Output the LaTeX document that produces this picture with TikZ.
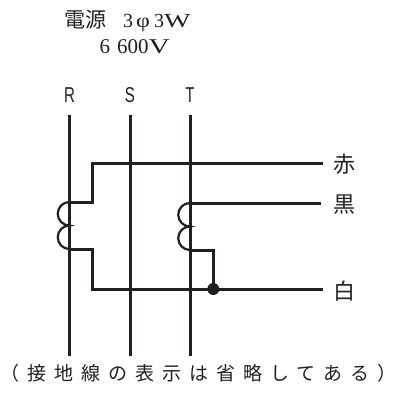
\documentclass[tikz,border=0pt]{standalone}
\usepackage{graphicx}
\usepackage{fontspec}
\setmainfont{Liberation Serif}
\newfontfamily\cjk{Noto Sans CJK JP}
\newfontfamily\cjkspaced[LetterSpace=42]{Noto Sans CJK JP}
\newfontfamily\rstfont[FakeStretch=0.7]{Liberation Sans}
\definecolor{ink}{HTML}{231F20}
\begin{document}
\begin{tikzpicture}[x=1pt,y=-1pt,
  wire/.style={draw=ink,line width=3pt},
  coilline/.style={draw=ink,line width=2.2pt},
  phase/.style={font=\rstfont\fontsize{21.5}{21.5}\selectfont,text=ink,inner sep=0pt},
  colourlabel/.style={font=\cjk\fontsize{22}{22}\selectfont,text=ink,inner sep=0pt},
  titletext/.style={text=ink,inner sep=0pt,anchor=base west},
  dotnode/.style={circle,fill=ink,minimum size=12pt,inner sep=0pt}]
\useasboundingbox (0,0) rectangle (397,392);
% title
\node[titletext,font=\fontsize{20}{20}\selectfont] (title) at (64,27)
  {{\cjk\fontsize{21}{21}\selectfont 電源}\hspace{17pt}3\hspace{3pt}\scalebox{1.2}[1]{φ}\hspace{4pt}3\scalebox{1.4}[1]{W}};
\node[titletext,font=\fontsize{21}{21}\selectfont] (volt) at (99.5,53.5)
  {6\hspace{7pt}600\scalebox{1.4}[1]{V}};
% phase labels
\node[phase] (lR) at (69.5,95) {R};
\node[phase] (lS) at (130,95) {S};
\node[phase] (lT) at (190,95) {T};
% line ends
\coordinate (Rt) at (69.5,115); \coordinate (Rb) at (69.5,356);
\coordinate (St) at (130,115);  \coordinate (Sb) at (130,356);
\coordinate (Tt) at (190,115);  \coordinate (Tb) at (190,356);
% coil ends
\coordinate (R1) at (69.5,202); \coordinate (R2) at (69.5,249);
\coordinate (T1) at (190,203);  \coordinate (T2) at (190,250);
% corner points
\coordinate (a1) at (92.7,202); \coordinate (a2) at (92.7,163);
\coordinate (b1) at (92.7,249); \coordinate (b2) at (92.7,289);
\coordinate (c1) at (213.3,250);
\node[dotnode] (dot) at (213.3,289) {};
% outputs
\coordinate (oRed) at (323,163);
\coordinate (oBlk) at (321,203);
\coordinate (oWht) at (323,289);
\node[colourlabel] (red) at (344,164) {赤};
\node[colourlabel] (blk) at (344,205) {黒};
\node[colourlabel] (wht) at (344,291) {白};
% phase lines
\draw[wire] (Rt) -- (Rb);
\draw[wire] (St) -- (Sb);
\draw[wire] (Tt) -- (Tb);
% coils
\draw[coilline] (R1) arc[start angle=-90,end angle=-270,radius=11.75]
                     arc[start angle=-90,end angle=-270,radius=11.75];
\draw[coilline] (T1) arc[start angle=-90,end angle=-270,radius=11.75]
                     arc[start angle=-90,end angle=-270,radius=11.75];
% taps
\draw[wire,line join=miter] (R1) -- (a1) -- (a2) -- (oRed);
\draw[wire,line join=miter] (R2) -- (b1) -- (b2) -- (oWht);
\draw[wire] (T1) -- (oBlk);
\draw[wire,line join=miter] (T2) -- (c1) -- (dot.center);
% note
\node[font=\cjkspaced\fontsize{19}{19}\selectfont,text=ink,inner sep=0pt] (note) at (198.5,373)
  {（接地線の表示は省略してある）};
\end{tikzpicture}
\end{document}
